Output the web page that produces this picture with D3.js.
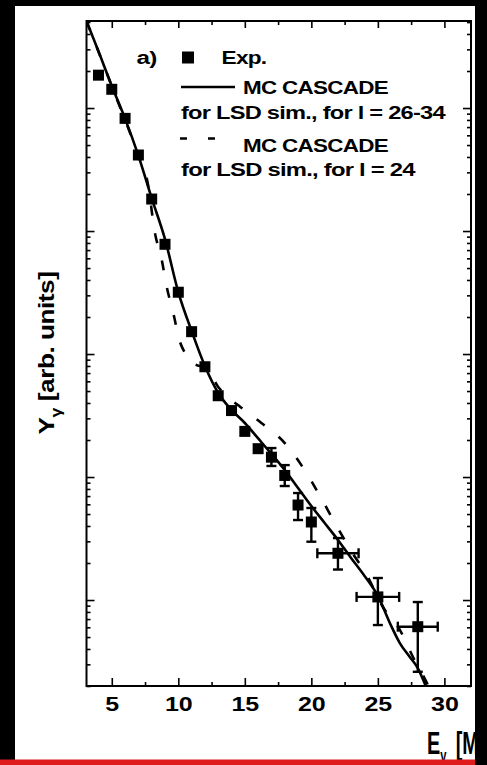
<!DOCTYPE html>
<html>
<head>
<meta charset="utf-8">
<script src="https://cdn.jsdelivr.net/npm/d3@7"></script>
<style>
  html, body { margin: 0; padding: 0; background: #000; }
  svg { display: block; }
  text { font-family: "Liberation Sans", Arial, Helvetica, sans-serif; font-weight: bold; fill: #000; }
</style>
</head>
<body>
<svg id="chart" width="487" height="765"></svg>
<script>
// Measured gamma yield (arbitrary units) versus gamma energy (MeV)
const expE = [4, 5, 6, 7, 8, 9, 10, 11, 12, 13, 14, 15, 16, 17, 18, 19, 20, 22, 25, 28];
const expY = [18500, 14200, 8240, 4150, 1820, 780, 318, 152, 78.8, 45.8, 34.7, 23.5, 17.0, 14.5, 10.3, 5.92, 4.31, 2.40, 1.06, 0.607];

// Error bars of the high-energy points
const errE    = [17, 18, 19, 20, 22, 25, 28];
const errLow  = [12.3, 8.45, 4.47, 2.98, 1.77, 0.626, 0.261];
const errHigh = [17.2, 12.5, 7.41, 5.6, 3.19, 1.51, 0.963];
const errDE   = [0, 0, 0, 0, 1.55, 1.6, 1.5];

// MC CASCADE, LSD simulation, l = 26-34
const solidE = [3.1, 4, 5, 6, 7, 8, 9, 10, 11, 12, 13, 14, 15, 16, 17, 18, 19, 20, 21, 22, 23, 24, 25, 26, 26.65, 27.4, 28, 28.6, 29.2];
const solidY = [50900, 28900, 15100, 8200, 4100, 1850, 860, 319, 154, 79.8, 48.2, 35.1, 27.5, 20.6, 15.4, 11.4, 8.15, 5.81, 4.23, 3.08, 2.19, 1.57, 1.08, 0.617, 0.447, 0.344, 0.280, 0.200, 0.14];

// MC CASCADE, LSD simulation, l = 24
const dashE = [3.1, 5, 7, 7.7, 8.25, 8.76, 9.13, 9.63, 10.08, 10.6, 11.03, 11.63, 12.1, 13, 14, 14.64, 16.27, 18.02, 19.4, 20.65, 21.78, 23.03, 24.16, 25.38, 26.66, 27.64, 28.69, 29.2];
const dashY = [50900, 15100, 4100, 2455, 957, 581, 352, 214, 130, 98.2, 84.5, 79.8, 76.9, 54.0, 42.3, 37.3, 27.4, 18.8, 11.8, 7.01, 4.21, 2.47, 1.60, 0.877, 0.570, 0.344, 0.211, 0.158];

// Axis ticks
const xMajorTicks = [5, 10, 15, 20, 25, 30];
const xMinorTicks = [7.5, 12.5, 17.5, 22.5, 27.5];
const yMajorTicks = [1, 10, 100, 1000, 10000];

// Legend entries
const panelTag = "a)";
const legendExp = "Exp.";
const legendLines = [
  ["MC CASCADE", "for LSD sim., for l = 26-34"],
  ["MC CASCADE", "for LSD sim., for l = 24"]
];

const svg = d3.select("#chart");
const L = 86.5, R = 471, T = 21, B = 686;

const x = d3.scaleLinear().domain([3.1, 32]).range([L, R]);
const y = d3.scaleLog().domain([0.2, 51000]).range([B, T]);

// page: white sheet on black, red rule at the bottom
svg.append("rect").attr("width", 487).attr("height", 765).attr("fill", "#000");
svg.append("rect").attr("x", 15).attr("y", 6).attr("width", 460).attr("height", 754).attr("fill", "#fff");

svg.append("defs").append("clipPath").attr("id", "plotClip")
  .append("rect").attr("x", L).attr("y", T).attr("width", R - L).attr("height", B - T);

// stretch a text horizontally so that it spans the given width
function fitText(g, tx, ty, width, rot) {
  const t = g.node();
  const w = t.getComputedTextLength();
  const k = width / w;
  g.attr("transform", `translate(${tx},${ty})` + (rot ? ` rotate(${rot})` : "") + ` scale(${k},1)`);
  return g;
}

// minor log ticks between decades
const [y0, y1] = y.domain();
const yMinorTicks = [];
for (let d = -1; d <= 4; d++) {
  for (let m = 2; m <= 9; m++) {
    const v = m * Math.pow(10, d);
    if (v >= y0 && v <= y1) yMinorTicks.push(v);
  }
}

function styleAxis(g) {
  g.select(".domain").remove();
  g.selectAll(".tick line").attr("stroke", "#000").attr("stroke-width", 1.6);
}

// bottom axis with labels
const gBottom = svg.append("g").attr("transform", `translate(0,${B})`)
  .call(d3.axisBottom(x).tickValues(xMajorTicks).tickSizeInner(-8).tickSizeOuter(0).tickPadding(0).tickFormat(d3.format("d")));
styleAxis(gBottom);
gBottom.selectAll(".tick text").remove();
gBottom.selectAll(".tick").append("text")
  .attr("transform", "translate(0,24.5) scale(1.22,1)")
  .attr("text-anchor", "middle")
  .style("font-size", "20.5px")
  .text(d => d);

svg.append("g").attr("transform", `translate(0,${B})`)
  .call(d3.axisBottom(x).tickValues(xMinorTicks).tickSizeInner(-4).tickSizeOuter(0).tickFormat(""))
  .call(styleAxis);

// top axis
svg.append("g").attr("transform", `translate(0,${T})`)
  .call(d3.axisTop(x).tickValues(xMajorTicks).tickSizeInner(-7).tickSizeOuter(0).tickFormat(""))
  .call(styleAxis);
svg.append("g").attr("transform", `translate(0,${T})`)
  .call(d3.axisTop(x).tickValues(xMinorTicks).tickSizeInner(-4).tickSizeOuter(0).tickFormat(""))
  .call(styleAxis);

// left and right log axes (no labels)
svg.append("g").attr("transform", `translate(${L},0)`)
  .call(d3.axisLeft(y).tickValues(yMajorTicks).tickSizeInner(-8).tickSizeOuter(0).tickFormat(""))
  .call(styleAxis);
svg.append("g").attr("transform", `translate(${L},0)`)
  .call(d3.axisLeft(y).tickValues(yMinorTicks).tickSizeInner(-4).tickSizeOuter(0).tickFormat(""))
  .call(styleAxis);
svg.append("g").attr("transform", `translate(${R},0)`)
  .call(d3.axisRight(y).tickValues(yMajorTicks).tickSizeInner(-8).tickSizeOuter(0).tickFormat(""))
  .call(styleAxis);
svg.append("g").attr("transform", `translate(${R},0)`)
  .call(d3.axisRight(y).tickValues(yMinorTicks).tickSizeInner(-4).tickSizeOuter(0).tickFormat(""))
  .call(styleAxis);

// frame
svg.append("rect").attr("x", L).attr("y", T).attr("width", R - L).attr("height", B - T)
  .attr("fill", "none").attr("stroke", "#000").attr("stroke-width", 2);

// simulation curves
const plot = svg.append("g").attr("clip-path", "url(#plotClip)");
const line = d3.line().x(d => x(d[0])).y(d => y(d[1])).curve(d3.curveMonotoneX);

plot.append("path")
  .attr("d", line(solidE.map((e, i) => [e, solidY[i]])))
  .attr("fill", "none").attr("stroke", "#000").attr("stroke-width", 2.6);

plot.append("path")
  .attr("d", line(dashE.map((e, i) => [e, dashY[i]])))
  .attr("fill", "none").attr("stroke", "#000").attr("stroke-width", 2.6)
  .attr("stroke-dasharray", "10,18");

// error bars
const eb = plot.append("g").attr("stroke", "#000").attr("stroke-width", 2.4);
errE.forEach((e, i) => {
  const cx = x(e), lo = y(errLow[i]), hi = y(errHigh[i]);
  eb.append("line").attr("x1", cx).attr("x2", cx).attr("y1", lo).attr("y2", hi);
  eb.append("line").attr("x1", cx - 5).attr("x2", cx + 5).attr("y1", lo).attr("y2", lo);
  eb.append("line").attr("x1", cx - 5).attr("x2", cx + 5).attr("y1", hi).attr("y2", hi);
  if (errDE[i] > 0) {
    const cy = y(expY[expE.indexOf(e)]);
    const xl = x(e - errDE[i]), xr = x(e + errDE[i]);
    eb.append("line").attr("x1", xl).attr("x2", xr).attr("y1", cy).attr("y2", cy);
    eb.append("line").attr("x1", xl).attr("x2", xl).attr("y1", cy - 5).attr("y2", cy + 5);
    eb.append("line").attr("x1", xr).attr("x2", xr).attr("y1", cy - 5).attr("y2", cy + 5);
  }
});

// experimental points
const sq = 11;
plot.selectAll("rect.pt").data(expE.map((e, i) => [e, expY[i]])).enter()
  .append("rect").attr("class", "pt")
  .attr("x", d => x(d[0]) - sq / 2).attr("y", d => y(d[1]) - sq / 2)
  .attr("width", sq).attr("height", sq).attr("fill", "#000");

// legend
const lg = svg.append("g");
const lgText = (str, tx, ty, width) =>
  fitText(lg.append("text").style("font-size", "19px").style("letter-spacing", "-0.6px").text(str), tx, ty, width);

lgText(panelTag, 136.5, 63.5, 20);
lg.append("rect").attr("x", 182).attr("y", 51.5).attr("width", 12).attr("height", 12).attr("fill", "#000");
lgText(legendExp, 221.5, 63.5, 45);

lg.append("line").attr("x1", 181).attr("x2", 235).attr("y1", 87).attr("y2", 87)
  .attr("stroke", "#000").attr("stroke-width", 2.6);
lgText(legendLines[0][0], 243, 93.5, 145);
lgText(legendLines[0][1], 181, 118.5, 264);

lg.append("line").attr("x1", 180).attr("x2", 218).attr("y1", 138.5).attr("y2", 138.5)
  .attr("stroke", "#000").attr("stroke-width", 2.6).attr("stroke-dasharray", "7,21");
lgText(legendLines[1][0], 243, 152, 145);
lgText(legendLines[1][1], 181, 175.5, 234);

// y axis title
const yt = svg.append("text")
  .attr("text-anchor", "middle")
  .style("font-size", "22px")
  .style("letter-spacing", "-0.4px");
yt.append("tspan").text("Y");
yt.append("tspan").attr("dy", 7).style("font-size", "15px").text("γ");
yt.append("tspan").attr("dy", -7).text(" [arb. units]");
fitText(yt, 54, 353, 163, -90);

// x axis title
const xt = svg.append("text")
  .attr("transform", "translate(427,753.5) scale(0.62,1)")
  .style("font-size", "32px");
xt.append("tspan").text("E");
xt.append("tspan").attr("dy", 8).style("font-size", "18px").text("γ");
xt.append("tspan").attr("dy", -8).attr("dx", 6).text(" [MeV]");

// border around the sheet
svg.append("rect").attr("x", 475).attr("y", 0).attr("width", 12).attr("height", 765).attr("fill", "#000");
svg.append("rect").attr("x", 0).attr("y", 0).attr("width", 487).attr("height", 6).attr("fill", "#000");
svg.append("rect").attr("x", 0).attr("y", 759.5).attr("width", 475).attr("height", 5.5).attr("fill", "#e01b1b");
</script>
</body>
</html>
